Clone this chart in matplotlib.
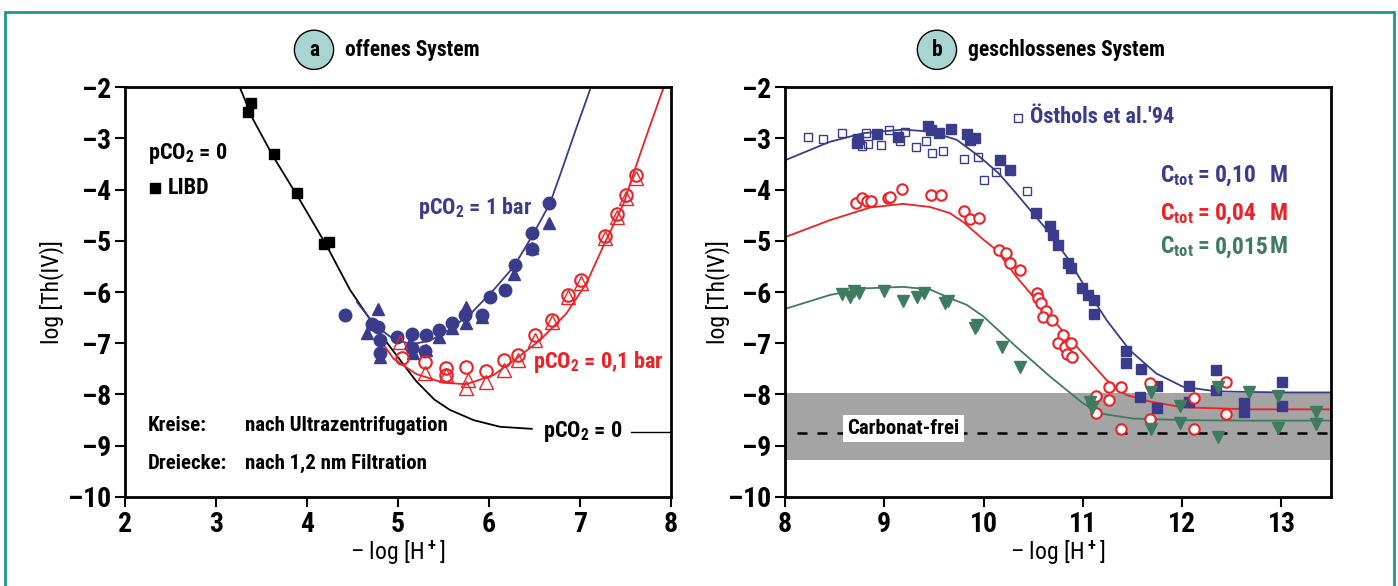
# Th(IV) Loeslichkeit: offenes und geschlossenes System
import matplotlib.pyplot as plt
import matplotlib.patches as mpatches
from matplotlib import font_manager

# pick a condensed bold face if one is installed
fams = {f.name for f in font_manager.fontManager.ttflist}
stretches = {(f.name, f.stretch) for f in font_manager.fontManager.ttflist}
FONT = 'DejaVu Sans'
STRETCH = 'normal'
for cand in ['Liberation Sans Narrow', 'Roboto Condensed', 'Open Sans Condensed']:
    if cand in fams:
        FONT = cand
        break
else:
    for name, st in stretches:
        if name in ('Roboto', 'Open Sans', 'DejaVu Sans', 'Noto Sans') and st in ('condensed', 'semi-condensed', 375, 500):
            FONT, STRETCH = name, 'condensed'
            break

plt.rcParams['font.family'] = [FONT, 'DejaVu Sans']
plt.rcParams['font.stretch'] = STRETCH
plt.rcParams['font.weight'] = 'bold'
plt.rcParams['mathtext.fontset'] = 'custom'
plt.rcParams['mathtext.rm'] = FONT + ':bold' + (':stretch=condensed' if STRETCH != 'normal' else '')
plt.rcParams['mathtext.default'] = 'rm'

BLUE = '#3b3b8c'
RED = '#ec2227'
GREEN = '#3e7b60'
TEAL = '#1a9a8c'

# ---- panel a: offenes System ----
libd_x = [3.35, 3.39, 3.64, 3.89, 4.19, 4.24]
libd_y = [-2.49, -2.32, -3.31, -4.07, -5.06, -5.03]

blue_circ_x = [4.42, 4.71, 4.78, 4.80, 4.80, 4.99, 5.15, 5.15, 5.30, 5.31, 5.45, 5.59,
               5.74, 5.92, 6.01, 6.18, 6.29, 6.47, 6.47, 6.66]
blue_circ_y = [-6.45, -6.62, -6.68, -6.94, -7.20, -6.87, -6.82, -7.10, -7.16, -6.84, -6.74, -6.60,
               -6.45, -6.44, -6.09, -5.96, -5.47, -5.17, -4.84, -4.27]
blue_tri_x = [4.66, 4.78, 4.80, 5.13, 5.17, 5.31, 5.45, 5.59, 5.75, 5.75, 5.92, 6.27, 6.47, 6.66]
blue_tri_y = [-6.80, -6.33, -7.26, -7.00, -7.20, -7.13, -6.87, -6.70, -6.30, -6.60, -6.48, -5.64,
              -5.15, -4.66]

red_circ_x = [5.04, 5.30, 5.53, 5.53, 5.75, 5.97, 6.16, 6.32, 6.51, 6.69, 6.87, 7.01, 7.27, 7.41,
              7.51, 7.62]
red_circ_y = [-7.29, -7.36, -7.49, -7.62, -7.46, -7.55, -7.33, -7.23, -6.84, -6.55, -6.06, -5.77,
              -4.90, -4.47, -4.11, -3.72]
red_tri_x = [5.02, 5.30, 5.53, 5.75, 5.77, 5.97, 6.16, 6.32, 6.51, 6.69, 6.87, 7.01, 7.27, 7.41,
             7.51, 7.62]
red_tri_y = [-6.97, -7.59, -7.62, -7.88, -7.72, -7.75, -7.52, -7.33, -6.94, -6.58, -6.09, -5.83,
             -4.95, -4.53, -4.17, -3.78]

# model curves
c0_x = [3.26, 3.41, 3.63, 3.92, 4.22, 4.47, 4.66, 4.84, 5.02, 5.2, 5.4, 5.57, 5.83, 6.12, 6.47]
c0_y = [-2.0, -2.64, -3.36, -4.2, -5.11, -5.95, -6.45, -6.9, -7.32, -7.74, -8.1, -8.3, -8.5,
        -8.63, -8.67]
c0_tail_x = [7.56, 8.0]
c0_tail_y = [-8.74, -8.74]
c1_x = [4.55, 4.75, 4.95, 5.15, 5.35, 5.55, 5.8, 6.05, 6.27, 6.47, 6.67, 6.8, 6.95, 7.12]
c1_y = [-6.2, -6.65, -6.92, -7.02, -6.95, -6.75, -6.42, -5.96, -5.51, -4.92, -4.27, -3.62,
        -2.85, -2.0]
c01_x = [4.85, 4.95, 5.2, 5.5, 5.75, 6.05, 6.3, 6.56, 6.85, 7.07, 7.27, 7.48, 7.6, 7.75, 7.92]
c01_y = [-7.05, -7.3, -7.6, -7.77, -7.8, -7.62, -7.3, -6.94, -6.42, -5.83, -5.05, -4.27,
         -3.62, -2.85, -2.0]

# ---- panel b: geschlossenes System ----
osth_x = [8.23, 8.38, 8.57, 8.78, 8.82, 8.84, 8.97, 9.05, 9.16, 9.21, 9.32, 9.42, 9.48, 9.59,
          9.80, 9.94, 10.00, 10.13, 10.44]
osth_y = [-2.97, -3.01, -2.89, -3.16, -2.90, -3.11, -3.13, -2.84, -3.05, -2.88, -3.18, -3.05,
          -3.28, -3.25, -3.41, -3.36, -3.81, -3.65, -4.02]

sq_x = [8.73, 8.74, 8.93, 9.14, 9.44, 9.47, 9.55, 9.67, 9.83, 9.86, 9.91, 10.17, 10.27, 10.53,
        10.67, 10.70, 10.75, 10.85, 10.88, 10.99, 11.05, 11.11, 11.11, 11.43, 11.43, 11.59, 11.58,
        11.75, 11.75, 12.07, 12.07, 12.34, 12.34, 12.62, 12.62, 13.01, 13.01]
sq_y = [-3.09, -3.02, -2.92, -2.97, -2.77, -2.84, -2.90, -2.81, -2.92, -3.03, -2.99, -3.42, -3.62,
        -4.46, -4.72, -4.89, -5.08, -5.44, -5.54, -5.93, -6.06, -6.16, -6.42, -7.16, -7.38, -7.50,
        -8.04, -7.83, -8.26, -7.83, -8.14, -7.52, -7.91, -8.17, -8.34, -7.75, -8.22]

rc_x = [8.72, 8.78, 8.83, 8.87, 9.04, 9.06, 9.18, 9.47, 9.57, 9.80, 9.86, 9.95, 10.16, 10.23,
        10.27, 10.37, 10.54, 10.55, 10.58, 10.63, 10.60, 10.69, 10.80, 10.75, 10.82, 10.88, 10.84,
        10.89, 11.26, 11.38, 11.13, 11.26, 11.13, 11.68, 11.68, 11.38, 12.12, 12.12, 12.44, 12.44]
rc_y = [-4.27, -4.16, -4.22, -4.22, -4.16, -4.14, -3.99, -4.11, -4.11, -4.42, -4.58, -4.56, -5.18,
        -5.24, -5.44, -5.57, -6.02, -6.12, -6.22, -6.38, -6.48, -6.55, -6.84, -6.99, -7.07, -6.99,
        -7.21, -7.26, -7.85, -7.85, -8.03, -8.11, -8.37, -7.78, -8.48, -8.68, -8.06, -8.67, -7.76,
        -8.39]

gt_x = [8.57, 8.65, 8.70, 8.75, 9.00, 9.19, 9.33, 9.40, 9.61, 9.64, 9.91, 9.93, 10.19, 10.37,
        11.07, 11.09, 11.69, 11.69, 11.98, 11.98, 12.36, 12.36, 12.67, 12.97, 12.97, 13.35, 13.35]
gt_y = [-6.03, -6.09, -5.99, -6.01, -5.99, -6.18, -6.10, -6.01, -6.22, -6.18, -6.71, -6.64, -7.07,
        -7.46, -8.14, -8.27, -7.96, -8.68, -8.22, -8.55, -7.86, -8.82, -7.96, -8.03, -8.65, -8.34,
        -8.58]

b10_x = [8.0, 8.2, 8.45, 8.79, 9.19, 9.46, 9.73, 9.96, 10.15, 10.30, 10.5, 10.67, 10.85, 11.0,
         11.24, 11.47, 11.74, 12.01, 12.35, 13.02, 13.5]
b10_y = [-3.43, -3.27, -3.07, -2.90, -2.83, -2.87, -3.03, -3.36, -3.68, -4.01, -4.47, -4.86,
         -5.35, -5.83, -6.55, -7.13, -7.59, -7.85, -7.94, -7.96, -7.96]
b04_x = [8.0, 8.45, 8.86, 9.19, 9.46, 9.66, 9.80, 10.0, 10.13, 10.33, 10.67, 11.0, 11.24, 11.44,
         11.68, 12.01, 12.68, 13.5]
b04_y = [-4.93, -4.60, -4.35, -4.28, -4.34, -4.46, -4.64, -4.98, -5.18, -5.70, -6.48, -7.20,
         -7.72, -8.01, -8.14, -8.25, -8.29, -8.29]
b015_x = [8.0, 8.45, 8.79, 9.19, 9.46, 9.66, 9.83, 10.0, 10.33, 10.67, 11.0, 11.17, 11.51, 12.01,
          12.68, 13.5]
b015_y = [-6.33, -6.06, -5.93, -5.90, -5.95, -6.12, -6.25, -6.48, -7.07, -7.65, -8.17, -8.37,
          -8.47, -8.50, -8.51, -8.51]

ctot_labels = ['0,10', '0,04', '0,015']
ctot_colors = [BLUE, RED, GREEN]

yticks = [-2, -3, -4, -5, -6, -7, -8, -9, -10]

# font sizes: smaller when only the wide fallback face is available
narrow = FONT != 'DejaVu Sans' or STRETCH != 'normal'
FS_TICK = 20 if narrow else 15
FS_TXT = 16 if narrow else 13
FS_LAB = 15 if narrow else 12.5
FS_AX = 17 if narrow else 13
FS_TITLE = 15.5 if narrow else 12


def style_axes(ax, xlim, xticks, ylab_x):
    ax.set_xlim(*xlim)
    ax.set_ylim(-10, -2)
    ax.set_xticks(xticks)
    ax.set_xticklabels([f'{t:g}' for t in xticks])
    ax.set_yticks(yticks)
    ax.set_yticklabels([f'–{abs(t)}' for t in yticks])
    ax.tick_params(direction='out', length=7, width=1.5, labelsize=FS_TICK, pad=3)
    for s in ax.spines.values():
        s.set_linewidth(2)
    ax.set_xlabel(r'– log [H$^+$]', fontsize=FS_AX, va='center')
    ax.set_ylabel('log [Th(IV)]', fontsize=FS_AX, va='center')
    ax.xaxis.set_label_coords(0.5, -0.136)
    ax.yaxis.set_label_coords(ylab_x, 0.5)


fig = plt.figure(figsize=(13.98, 5.86), dpi=100)

# teal frame
fig.patches.append(mpatches.Rectangle((0.0036, -0.05), 0.9936, 1.0295, transform=fig.transFigure,
                                      fill=False, ec=TEAL, lw=2))

# panel a
axL = fig.add_axes([0.0894, 0.1519, 0.3906, 0.6996])
axL.plot(c0_x, c0_y, color='black', lw=1.3)
axL.plot(c0_tail_x, c0_tail_y, color='black', lw=1)
axL.plot(c1_x, c1_y, color=BLUE, lw=1.3)
axL.plot(c01_x, c01_y, color=RED, lw=1.3)
axL.plot(libd_x, libd_y, 's', color='black', ms=7)
axL.plot(blue_tri_x, blue_tri_y, '^', color=BLUE, ms=9)
axL.plot(blue_circ_x, blue_circ_y, 'o', color=BLUE, ms=9)
axL.plot(red_tri_x, red_tri_y, '^', mfc='none', mec=RED, mew=1, ms=9.5)
axL.plot(red_circ_x, red_circ_y, 'o', mfc='none', mec=RED, mew=1.5, ms=9)

axL.text(2.25, -3.29, r'pCO$_2$ = 0', fontsize=FS_TXT, va='center')
axL.plot(2.33, -3.97, 's', color='black', ms=7)
axL.text(2.47, -3.97, 'LIBD', fontsize=FS_TXT, va='center')
axL.text(5.22, -4.36, r'pCO$_2$ = 1 bar', fontsize=FS_TXT, va='center', color=BLUE)
axL.text(6.48, -7.37, r'pCO$_2$ = 0,1 bar', fontsize=FS_TXT, va='center', color=RED)
axL.text(6.59, -8.73, r'pCO$_2$ = 0', fontsize=FS_TXT, va='center')
axL.text(2.25, -8.6, 'Kreise:', fontsize=FS_LAB, va='center')
axL.text(3.32, -8.6, 'nach Ultrazentrifugation', fontsize=FS_LAB, va='center')
axL.text(2.25, -9.34, 'Dreiecke:', fontsize=FS_LAB, va='center')
axL.text(3.32, -9.34, 'nach 1,2 nm Filtration', fontsize=FS_LAB, va='center')
style_axes(axL, (2, 8), [2, 3, 4, 5, 6, 7, 8], -0.134)

# panel b
axR = fig.add_axes([0.5615, 0.1519, 0.3906, 0.6996])
axR.axhspan(-9.27, -7.97, color='#a4a4a4', lw=0, zorder=0)
axR.plot([8.12, 13.5], [-8.76, -8.76], color='black', lw=1.8, ls=(0, (4, 4)))
axR.plot(b10_x, b10_y, color=BLUE, lw=1.3)
axR.plot(b04_x, b04_y, color=RED, lw=1.3)
axR.plot(b015_x, b015_y, color=GREEN, lw=1.3)
axR.plot(osth_x, osth_y, 's', mfc='none', mec=BLUE, mew=1, ms=6)
axR.plot(sq_x, sq_y, 's', color=BLUE, ms=7)
axR.plot(rc_x, rc_y, 'o', mfc='white', mec=RED, mew=1.5, ms=7.5)
axR.plot(gt_x, gt_y, 'v', color=GREEN, ms=9)

axR.text(8.63, -8.66, 'Carbonat-frei', fontsize=FS_LAB, va='center',
         bbox=dict(fc='white', ec='none', pad=3))
axR.plot(10.35, -2.6, 's', mfc='none', mec=BLUE, mew=1, ms=6)
axR.text(10.47, -2.58, "Östhols et al.'94", fontsize=FS_TXT, va='center', color=BLUE)
for lab, col, yy in zip(ctot_labels, ctot_colors, [-3.72, -4.47, -5.12]):
    axR.text(11.78, yy, r'C$_{tot}$', fontsize=FS_TXT + 1, va='center', color=col)
    axR.text(12.15, yy, '=', fontsize=FS_TXT + 1, va='center', color=col)
    axR.text(12.33, yy, lab, fontsize=FS_TXT + 1, va='center', color=col)
    axR.text(12.88, yy, 'M', fontsize=FS_TXT + 1, va='center', color=col)
style_axes(axR, (8, 13.5), [8, 9, 10, 11, 12, 13], -0.123)

# panel titles with circled letters
for xc, letter, title in [(0.2246, 'a', 'offenes System'), (0.6702, 'b', 'geschlossenes System')]:
    fig.text(xc, 0.915, letter, fontsize=FS_TITLE, ha='center', va='center',
             bbox=dict(boxstyle='circle,pad=0.4', fc='#a8d4d1', ec='black', lw=1))
    fig.text(xc + 0.0225, 0.915, title, fontsize=FS_TITLE, ha='left', va='center')

plt.savefig('out.png', dpi=100)
